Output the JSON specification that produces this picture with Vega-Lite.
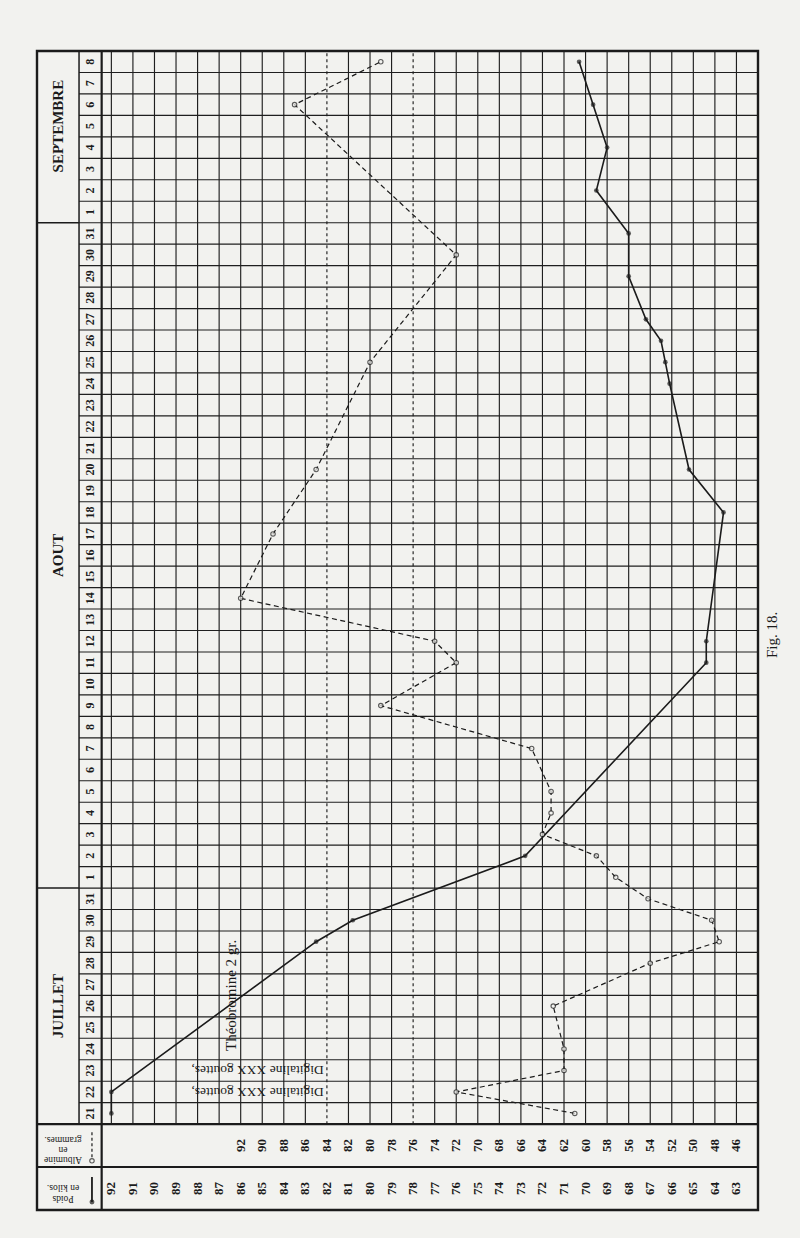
{
  "$schema": "https://vega.github.io/schema/vega-lite/v6.json",
  "width": 721,
  "height": 1159,
  "autosize": {"type": "none"},
  "padding": {"left": 37, "top": 51, "right": 42, "bottom": 28},
  "background": "#f2f2ef",
  "config": {"view": {"stroke": null}, "text": {"font": "Liberation Serif", "color": "#1b1b1b"}},
  "data": {
    "values": [
      {"date": "21/07", "poids": 92, "albumine": 61},
      {"date": "22/07", "poids": 92, "albumine": 72},
      {"date": "23/07", "albumine": 62},
      {"date": "24/07", "albumine": 62},
      {"date": "25/07"},
      {"date": "26/07", "albumine": 63},
      {"date": "27/07"},
      {"date": "28/07", "albumine": 54},
      {"date": "29/07", "poids": 82.5, "albumine": 47.6},
      {"date": "30/07", "poids": 80.8, "albumine": 48.3},
      {"date": "31/07", "albumine": 54.2},
      {"date": "01/08", "albumine": 57.2},
      {"date": "02/08", "poids": 72.8, "albumine": 59},
      {"date": "03/08", "albumine": 64},
      {"date": "04/08", "albumine": 63.2},
      {"date": "05/08", "albumine": 63.2},
      {"date": "06/08"},
      {"date": "07/08", "albumine": 65},
      {"date": "08/08"},
      {"date": "09/08", "albumine": 79},
      {"date": "10/08"},
      {"date": "11/08", "poids": 64.4, "albumine": 72},
      {"date": "12/08", "poids": 64.4, "albumine": 74},
      {"date": "13/08"},
      {"date": "14/08", "albumine": 92},
      {"date": "15/08"},
      {"date": "16/08"},
      {"date": "17/08", "albumine": 89},
      {"date": "18/08", "poids": 63.6},
      {"date": "19/08"},
      {"date": "20/08", "poids": 65.2, "albumine": 85},
      {"date": "21/08"},
      {"date": "22/08"},
      {"date": "23/08"},
      {"date": "24/08", "poids": 66.1},
      {"date": "25/08", "poids": 66.3, "albumine": 80},
      {"date": "26/08", "poids": 66.5},
      {"date": "27/08", "poids": 67.2},
      {"date": "28/08"},
      {"date": "29/08", "poids": 68.0},
      {"date": "30/08", "albumine": 72},
      {"date": "31/08", "poids": 68.0},
      {"date": "01/09"},
      {"date": "02/09", "poids": 69.5},
      {"date": "03/09"},
      {"date": "04/09", "poids": 69.0},
      {"date": "05/09"},
      {"date": "06/09", "poids": 69.65, "albumine": 87},
      {"date": "07/09"},
      {"date": "08/09", "poids": 70.3, "albumine": 79}
    ],
    "format": {"parse": {"date": "date:'%d/%m'"}}
  },
  "datasets": {
    "graduations": [
      {"poids": 92}, {"poids": 91}, {"poids": 90}, {"poids": 89}, {"poids": 88}, {"poids": 87},
      {"poids": 86, "albumine": 92}, {"poids": 85, "albumine": 90}, {"poids": 84, "albumine": 88},
      {"poids": 83, "albumine": 86}, {"poids": 82, "albumine": 84}, {"poids": 81, "albumine": 82},
      {"poids": 80, "albumine": 80}, {"poids": 79, "albumine": 78}, {"poids": 78, "albumine": 76},
      {"poids": 77, "albumine": 74}, {"poids": 76, "albumine": 72}, {"poids": 75, "albumine": 70},
      {"poids": 74, "albumine": 68}, {"poids": 73, "albumine": 66}, {"poids": 72, "albumine": 64},
      {"poids": 71, "albumine": 62}, {"poids": 70, "albumine": 60}, {"poids": 69, "albumine": 58},
      {"poids": 68, "albumine": 56}, {"poids": 67, "albumine": 54}, {"poids": 66, "albumine": 52},
      {"poids": 65, "albumine": 50}, {"poids": 64, "albumine": 48}, {"poids": 63, "albumine": 46}
    ]
  },
  "layer": [
    {
      "layer": [
        {
          "data": {"name": "graduations"},
          "mark": {"type": "rule", "color": "#1f1f1f", "strokeWidth": 1.15},
          "encoding": {
            "x": {"field": "poids", "type": "quantitative", "scale": {"domain": [62, 95.45], "reverse": true, "zero": false, "nice": false}, "axis": null},
            "y": {"datum": {"year": 1900, "month": 7, "date": 21}, "type": "temporal", "scale": {"domain": [{"year": 1900, "month": 7, "date": 17}, {"year": 1900, "month": 9, "date": 9}], "nice": false}, "axis": null},
            "y2": {"datum": {"year": 1900, "month": 9, "date": 9}},
            "strokeDash": {"condition": {"test": "datum.poids === 82 || datum.poids === 78", "value": [3, 3]}, "value": [1, 0]}
          }
        },
        {
          "mark": {"type": "rule", "color": "#1f1f1f", "strokeWidth": 1.15},
          "encoding": {
            "x": {"datum": 93.5, "type": "quantitative", "scale": {"domain": [62, 95.45], "reverse": true, "zero": false, "nice": false}, "axis": null},
            "x2": {"datum": 62},
            "y": {"field": "date", "type": "temporal", "scale": {"domain": [{"year": 1900, "month": 7, "date": 17}, {"year": 1900, "month": 9, "date": 9}], "nice": false}, "axis": null}
          }
        },
        {
          "data": {"values": [{}]},
          "mark": {"type": "rect", "fillOpacity": 0, "stroke": "#1b1b1b", "strokeWidth": 2.4},
          "encoding": {
            "x": {"datum": 95.45, "type": "quantitative", "scale": {"domain": [62, 95.45], "reverse": true, "zero": false, "nice": false}, "axis": null},
            "x2": {"datum": 62},
            "y": {"datum": {"year": 1900, "month": 7, "date": 17}, "type": "temporal", "scale": {"domain": [{"year": 1900, "month": 7, "date": 17}, {"year": 1900, "month": 9, "date": 9}], "nice": false}, "axis": null},
            "y2": {"datum": {"year": 1900, "month": 9, "date": 9}}
          }
        },
        {
          "data": {"values": [{}]},
          "mark": {"type": "rule", "color": "#1b1b1b", "strokeWidth": 2.2},
          "encoding": {
            "x": {"datum": 95.45, "type": "quantitative", "scale": {"domain": [62, 95.45], "reverse": true, "zero": false, "nice": false}, "axis": null},
            "x2": {"datum": 62},
            "y": {"datum": {"year": 1900, "month": 7, "date": 21}, "type": "temporal", "scale": {"domain": [{"year": 1900, "month": 7, "date": 17}, {"year": 1900, "month": 9, "date": 9}], "nice": false}, "axis": null}
          }
        },
        {
          "data": {"values": [{}]},
          "mark": {"type": "rule", "color": "#1b1b1b", "strokeWidth": 2},
          "encoding": {
            "x": {"datum": 95.45, "type": "quantitative", "scale": {"domain": [62, 95.45], "reverse": true, "zero": false, "nice": false}, "axis": null},
            "x2": {"datum": 62},
            "y": {"datum": {"year": 1900, "month": 7, "date": 19}, "type": "temporal", "scale": {"domain": [{"year": 1900, "month": 7, "date": 17}, {"year": 1900, "month": 9, "date": 9}], "nice": false}, "axis": null}
          }
        },
        {
          "data": {"values": [{}]},
          "mark": {"type": "rule", "color": "#1b1b1b", "strokeWidth": 2.2},
          "encoding": {
            "x": {"datum": 92.45, "type": "quantitative", "scale": {"domain": [62, 95.45], "reverse": true, "zero": false, "nice": false}, "axis": null},
            "y": {"datum": {"year": 1900, "month": 7, "date": 17}, "type": "temporal", "scale": {"domain": [{"year": 1900, "month": 7, "date": 17}, {"year": 1900, "month": 9, "date": 9}], "nice": false}, "axis": null},
            "y2": {"datum": {"year": 1900, "month": 9, "date": 9}}
          }
        },
        {
          "data": {"values": [{}]},
          "mark": {"type": "rule", "color": "#1b1b1b", "strokeWidth": 1.5},
          "encoding": {
            "x": {"datum": 93.5, "type": "quantitative", "scale": {"domain": [62, 95.45], "reverse": true, "zero": false, "nice": false}, "axis": null},
            "y": {"datum": {"year": 1900, "month": 7, "date": 21}, "type": "temporal", "scale": {"domain": [{"year": 1900, "month": 7, "date": 17}, {"year": 1900, "month": 9, "date": 9}], "nice": false}, "axis": null},
            "y2": {"datum": {"year": 1900, "month": 9, "date": 9}}
          }
        },
        {
          "data": {
            "values": [
              {"mois": "JUILLET", "debut": "21/07", "milieu": "26/07"},
              {"mois": "AOUT", "debut": "01/08", "milieu": "16/08"},
              {"mois": "SEPTEMBRE", "debut": "01/09", "milieu": "05/09"}
            ],
            "format": {"parse": {"debut": "date:'%d/%m'", "milieu": "date:'%d/%m'"}}
          },
          "layer": [
            {
              "mark": {"type": "rule", "color": "#1b1b1b", "strokeWidth": 1.5},
              "encoding": {
                "x": {"datum": 95.45, "type": "quantitative", "scale": {"domain": [62, 95.45], "reverse": true, "zero": false, "nice": false}, "axis": null},
                "x2": {"datum": 93.5},
                "y": {"field": "debut", "type": "temporal", "scale": {"domain": [{"year": 1900, "month": 7, "date": 17}, {"year": 1900, "month": 9, "date": 9}], "nice": false}, "axis": null}
              }
            },
            {
              "mark": {"type": "text", "angle": 270, "align": "center", "baseline": "middle", "fontSize": 15, "fontWeight": "bold"},
              "encoding": {
                "x": {"datum": 94.476, "type": "quantitative", "scale": {"domain": [62, 95.45], "reverse": true, "zero": false, "nice": false}, "axis": null},
                "y": {"field": "milieu", "type": "temporal", "timeUnit": "yearmonthdate", "bandPosition": 0.5, "scale": {"domain": [{"year": 1900, "month": 7, "date": 17}, {"year": 1900, "month": 9, "date": 9}], "nice": false}, "axis": null},
                "text": {"field": "mois", "type": "nominal"}
              }
            }
          ]
        },
        {
          "mark": {"type": "text", "angle": 270, "align": "center", "baseline": "middle", "fontSize": 12, "fontWeight": "bold"},
          "encoding": {
            "x": {"datum": 92.975, "type": "quantitative", "scale": {"domain": [62, 95.45], "reverse": true, "zero": false, "nice": false}, "axis": null},
            "y": {"field": "date", "type": "temporal", "timeUnit": "yearmonthdate", "bandPosition": 0.5, "scale": {"domain": [{"year": 1900, "month": 7, "date": 17}, {"year": 1900, "month": 9, "date": 9}], "nice": false}, "axis": null},
            "text": {"field": "date", "type": "temporal", "format": "%-d"}
          }
        },
        {
          "data": {"name": "graduations"},
          "mark": {"type": "text", "angle": 270, "align": "center", "baseline": "middle", "fontSize": 13, "fontWeight": "bold"},
          "encoding": {
            "x": {"field": "poids", "type": "quantitative", "scale": {"domain": [62, 95.45], "reverse": true, "zero": false, "nice": false}, "axis": null},
            "y": {"datum": {"year": 1900, "month": 7, "date": 18}, "type": "temporal", "scale": {"domain": [{"year": 1900, "month": 7, "date": 17}, {"year": 1900, "month": 9, "date": 9}], "nice": false}, "axis": null},
            "text": {"field": "poids", "type": "quantitative"}
          }
        },
        {
          "data": {"name": "graduations"},
          "transform": [{"filter": "isValid(datum.albumine)"}],
          "mark": {"type": "text", "angle": 270, "align": "center", "baseline": "middle", "fontSize": 13, "fontWeight": "bold"},
          "encoding": {
            "x": {"field": "poids", "type": "quantitative", "scale": {"domain": [62, 95.45], "reverse": true, "zero": false, "nice": false}, "axis": null},
            "y": {"datum": {"year": 1900, "month": 7, "date": 20}, "type": "temporal", "scale": {"domain": [{"year": 1900, "month": 7, "date": 17}, {"year": 1900, "month": 9, "date": 9}], "nice": false}, "axis": null},
            "text": {"field": "albumine", "type": "quantitative"}
          }
        },
        {
          "data": {"values": [{}]},
          "mark": {"type": "text", "angle": 180, "align": "center", "baseline": "middle", "fontSize": 9.5, "lineHeight": 10},
          "encoding": {
            "x": {"datum": 94.24, "type": "quantitative", "scale": {"domain": [62, 95.45], "reverse": true, "zero": false, "nice": false}, "axis": null},
            "y": {"datum": {"year": 1900, "month": 7, "date": 19, "hours": 8, "minutes": 18}, "type": "temporal", "scale": {"domain": [{"year": 1900, "month": 7, "date": 17}, {"year": 1900, "month": 9, "date": 9}], "nice": false}, "axis": null},
            "text": {"value": ["Albumine", "en", "grammes."]}
          }
        },
        {
          "data": {"values": [{}]},
          "mark": {"type": "text", "angle": 180, "align": "center", "baseline": "middle", "fontSize": 9.5, "lineHeight": 11},
          "encoding": {
            "x": {"datum": 94.24, "type": "quantitative", "scale": {"domain": [62, 95.45], "reverse": true, "zero": false, "nice": false}, "axis": null},
            "y": {"datum": {"year": 1900, "month": 7, "date": 17, "hours": 12}, "type": "temporal", "scale": {"domain": [{"year": 1900, "month": 7, "date": 17}, {"year": 1900, "month": 9, "date": 9}], "nice": false}, "axis": null},
            "text": {"value": ["Poids", "en kilos."]}
          }
        },
        {
          "data": {"values": [{}]},
          "mark": {"type": "rule", "color": "#1b1b1b", "strokeWidth": 1.2, "strokeDash": [3, 2.5]},
          "encoding": {
            "x": {"datum": 92.9, "type": "quantitative", "scale": {"domain": [62, 95.45], "reverse": true, "zero": false, "nice": false}, "axis": null},
            "y": {"datum": {"year": 1900, "month": 7, "date": 20, "hours": 15}, "type": "temporal", "scale": {"domain": [{"year": 1900, "month": 7, "date": 17}, {"year": 1900, "month": 9, "date": 9}], "nice": false}, "axis": null},
            "y2": {"datum": {"year": 1900, "month": 7, "date": 19, "hours": 10}}
          }
        },
        {
          "data": {"values": [{}]},
          "mark": {"type": "point", "shape": "circle", "size": 20, "filled": true, "fill": "#f2f2ef", "stroke": "#1b1b1b", "strokeWidth": 1.1},
          "encoding": {
            "x": {"datum": 92.9, "type": "quantitative", "scale": {"domain": [62, 95.45], "reverse": true, "zero": false, "nice": false}, "axis": null},
            "y": {"datum": {"year": 1900, "month": 7, "date": 19, "hours": 7}, "type": "temporal", "scale": {"domain": [{"year": 1900, "month": 7, "date": 17}, {"year": 1900, "month": 9, "date": 9}], "nice": false}, "axis": null}
          }
        },
        {
          "data": {"values": [{}]},
          "mark": {"type": "rule", "color": "#1b1b1b", "strokeWidth": 1.8},
          "encoding": {
            "x": {"datum": 92.9, "type": "quantitative", "scale": {"domain": [62, 95.45], "reverse": true, "zero": false, "nice": false}, "axis": null},
            "y": {"datum": {"year": 1900, "month": 7, "date": 18, "hours": 13}, "type": "temporal", "scale": {"domain": [{"year": 1900, "month": 7, "date": 17}, {"year": 1900, "month": 9, "date": 9}], "nice": false}, "axis": null},
            "y2": {"datum": {"year": 1900, "month": 7, "date": 17, "hours": 9}}
          }
        },
        {
          "data": {"values": [{}]},
          "mark": {"type": "point", "shape": "circle", "size": 24, "filled": true, "color": "#1b1b1b"},
          "encoding": {
            "x": {"datum": 92.9, "type": "quantitative", "scale": {"domain": [62, 95.45], "reverse": true, "zero": false, "nice": false}, "axis": null},
            "y": {"datum": {"year": 1900, "month": 7, "date": 17, "hours": 9}, "type": "temporal", "scale": {"domain": [{"year": 1900, "month": 7, "date": 17}, {"year": 1900, "month": 9, "date": 9}], "nice": false}, "axis": null}
          }
        },
        {
          "data": {
            "values": [
              {"texte": "Digitaline XXX gouttes,", "date": "22/07", "type": "digitaline"},
              {"texte": "Digitaline XXX gouttes,", "date": "23/07", "type": "digitaline"},
              {"texte": "Théobromine 2 gr.", "date": "27/07", "type": "theobromine"}
            ],
            "format": {"parse": {"date": "date:'%d/%m'"}}
          },
          "layer": [
            {
              "transform": [{"filter": "datum.type === 'digitaline'"}],
              "mark": {"type": "text", "angle": 180, "align": "left", "baseline": "middle", "fontSize": 13.5},
              "encoding": {
                "x": {"datum": 82.15, "type": "quantitative", "scale": {"domain": [62, 95.45], "reverse": true, "zero": false, "nice": false}, "axis": null},
                "y": {"field": "date", "type": "temporal", "timeUnit": "yearmonthdate", "bandPosition": 0.5, "scale": {"domain": [{"year": 1900, "month": 7, "date": 17}, {"year": 1900, "month": 9, "date": 9}], "nice": false}, "axis": null},
                "text": {"field": "texte", "type": "nominal"}
              }
            },
            {
              "transform": [{"filter": "datum.type === 'theobromine'"}],
              "mark": {"type": "text", "angle": 270, "align": "center", "baseline": "middle", "fontSize": 15},
              "encoding": {
                "x": {"datum": 86.45, "type": "quantitative", "scale": {"domain": [62, 95.45], "reverse": true, "zero": false, "nice": false}, "axis": null},
                "y": {"field": "date", "type": "temporal", "scale": {"domain": [{"year": 1900, "month": 7, "date": 17}, {"year": 1900, "month": 9, "date": 9}], "nice": false}, "axis": null},
                "text": {"field": "texte", "type": "nominal"}
              }
            }
          ]
        },
        {
          "data": {"values": [{}]},
          "mark": {"type": "text", "angle": 270, "align": "center", "baseline": "middle", "fontSize": 15},
          "encoding": {
            "x": {"datum": 61.37, "type": "quantitative", "scale": {"domain": [62, 95.45], "reverse": true, "zero": false, "nice": false}, "axis": null},
            "y": {"datum": {"year": 1900, "month": 8, "date": 12, "hours": 19}, "type": "temporal", "scale": {"domain": [{"year": 1900, "month": 7, "date": 17}, {"year": 1900, "month": 9, "date": 9}], "nice": false}, "axis": null},
            "text": {"value": "Fig. 18."}
          }
        },
        {
          "transform": [{"filter": "isValid(datum.poids)"}],
          "mark": {"type": "line", "color": "#1b1b1b", "strokeWidth": 1.6},
          "encoding": {
            "x": {"field": "poids", "type": "quantitative", "scale": {"domain": [62, 95.45], "reverse": true, "zero": false, "nice": false}, "axis": null},
            "y": {"field": "date", "type": "temporal", "timeUnit": "yearmonthdate", "bandPosition": 0.5, "scale": {"domain": [{"year": 1900, "month": 7, "date": 17}, {"year": 1900, "month": 9, "date": 9}], "nice": false}, "axis": null},
            "order": {"field": "date", "type": "temporal"}
          }
        },
        {
          "transform": [{"filter": "isValid(datum.poids)"}],
          "mark": {"type": "point", "shape": "circle", "size": 22, "filled": true, "color": "#1b1b1b"},
          "encoding": {
            "x": {"field": "poids", "type": "quantitative", "scale": {"domain": [62, 95.45], "reverse": true, "zero": false, "nice": false}, "axis": null},
            "y": {"field": "date", "type": "temporal", "timeUnit": "yearmonthdate", "bandPosition": 0.5, "scale": {"domain": [{"year": 1900, "month": 7, "date": 17}, {"year": 1900, "month": 9, "date": 9}], "nice": false}, "axis": null}
          }
        }
      ]
    },
    {
      "transform": [{"filter": "isValid(datum.albumine)"}],
      "layer": [
        {
          "mark": {"type": "line", "color": "#1b1b1b", "strokeWidth": 1.2, "strokeDash": [5, 3.5]},
          "encoding": {
            "x": {"field": "albumine", "type": "quantitative", "scale": {"domain": [44, 110.9], "reverse": true, "zero": false, "nice": false}, "axis": null},
            "y": {"field": "date", "type": "temporal", "timeUnit": "yearmonthdate", "bandPosition": 0.5, "scale": {"domain": [{"year": 1900, "month": 7, "date": 17}, {"year": 1900, "month": 9, "date": 9}], "nice": false}, "axis": null},
            "order": {"field": "date", "type": "temporal"}
          }
        },
        {
          "mark": {"type": "point", "shape": "circle", "size": 20, "filled": true, "fill": "#f2f2ef", "stroke": "#1b1b1b", "strokeWidth": 1.1},
          "encoding": {
            "x": {"field": "albumine", "type": "quantitative", "scale": {"domain": [44, 110.9], "reverse": true, "zero": false, "nice": false}, "axis": null},
            "y": {"field": "date", "type": "temporal", "timeUnit": "yearmonthdate", "bandPosition": 0.5, "scale": {"domain": [{"year": 1900, "month": 7, "date": 17}, {"year": 1900, "month": 9, "date": 9}], "nice": false}, "axis": null}
          }
        }
      ]
    }
  ],
  "resolve": {"scale": {"x": "independent"}}
}
